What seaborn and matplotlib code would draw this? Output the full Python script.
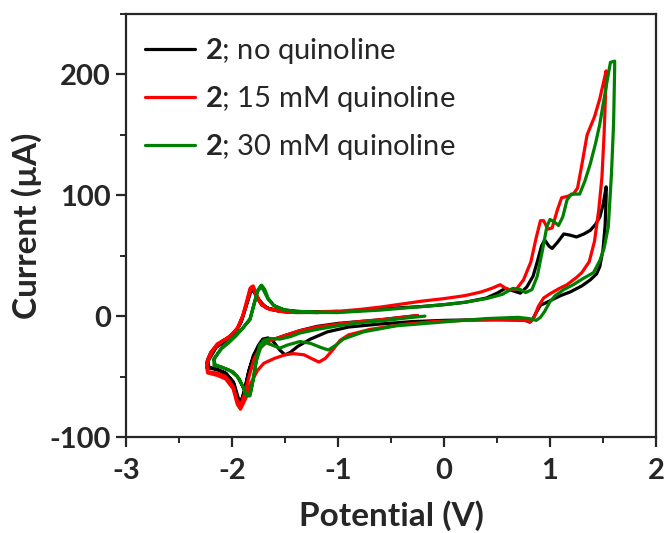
import matplotlib
matplotlib.use("Agg")
import matplotlib.pyplot as plt
import seaborn as sns
import pandas as pd
import numpy as np
from matplotlib.ticker import MultipleLocator

# ---------------- data (potential in V, current in uA) ----------------
labels = ["2; no quinoline", "2; 15 mM quinoline", "2; 30 mM quinoline"]
colors = ["#000000", "#ff0000", "#008000"]

black_E = [-0.25, -0.4, -0.6, -0.8, -1.0, -1.2, -1.36, -1.5, -1.6, -1.68, -1.74, -1.79, -1.84, -1.88, -1.91, -1.94, -1.98, -2.05, -2.12, -2.18, -2.22,
           -2.23, -2.2, -2.14, -2.05, -1.97, -1.92, -1.87, -1.83, -1.80, -1.77, -1.72, -1.65, -1.55, -1.4, -1.2, -1.0, -0.8, -0.6, -0.4, -0.2, 0.0, 0.2, 0.4, 0.5, 0.58, 0.65, 0.72, 0.78, 0.84, 0.88, 0.92, 0.95, 0.99, 1.02, 1.07, 1.13, 1.19, 1.25, 1.32, 1.38, 1.43, 1.47, 1.50, 1.53,
           1.53, 1.52, 1.50, 1.47, 1.44, 1.38, 1.30, 1.19, 1.10, 1.03, 0.96, 0.91, 0.87, 0.84, 0.81, 0.77, 0.6, 0.3, 0.0, -0.3, -0.6, -0.9, -1.1, -1.26, -1.38, -1.45, -1.5, -1.55, -1.61, -1.66, -1.71, -1.75, -1.80, -1.84, -1.88, -1.92, -1.95, -1.99, -2.06, -2.14, -2.22,
           -2.23, -2.15, -2.05, -1.96, -1.91, -1.86, -1.82, -1.79, -1.75, -1.68, -1.55, -1.3, -1.0]
black_I = [0.5, -1, -3, -4.5, -6, -8.5, -12, -16, -19, -21, -25, -32, -45, -60, -70, -68, -56, -48, -45, -43, -42,
           -36, -30, -24, -19, -13, -6, 8, 20, 22, 16, 10, 6, 4, 3, 3, 3.5, 4.5, 6, 7, 8, 9.5, 11.5, 15, 19, 23, 21, 19, 24, 33, 45, 58, 63, 58, 56, 61, 68, 67, 65.5, 68, 71, 76, 82, 92, 107,
           100, 75, 55, 41, 35, 30, 25, 20, 17, 14, 11, 9, 3, -2, -5, -3.5, -3, -3, -3.5, -4.5, -6.5, -9, -13, -19, -25, -30, -32, -28, -21, -18, -19, -24, -33, -45, -62, -72, -68, -54, -47, -44, -43,
           -38, -26, -20, -12, -4, 10, 21, 21, 14, 7, 4.5, 3.5, 4]

red_E = [-0.25, -0.4, -0.6, -0.8, -1.0, -1.2, -1.36, -1.5, -1.6, -1.68, -1.74, -1.79, -1.84, -1.88, -1.92, -1.95, -1.99, -2.06, -2.14, -2.23,
         -2.24, -2.2, -2.14, -2.06, -2.0, -1.94, -1.89, -1.85, -1.82, -1.80, -1.77, -1.73, -1.67, -1.55, -1.4, -1.2, -1.0, -0.8, -0.6, -0.4, -0.2, 0.0, 0.2, 0.35, 0.45, 0.53, 0.6, 0.68, 0.75, 0.82, 0.87, 0.91, 0.94, 0.98, 1.02, 1.07, 1.11, 1.16, 1.22, 1.26, 1.30, 1.35, 1.42, 1.47, 1.53,
         1.53, 1.51, 1.49, 1.46, 1.42, 1.37, 1.30, 1.25, 1.16, 1.09, 1.0, 0.94, 0.89, 0.85, 0.82, 0.75, 0.5, 0.2, -0.1, -0.4, -0.7, -0.9, -0.98, -1.05, -1.12, -1.18, -1.24, -1.32, -1.42, -1.50, -1.60, -1.70, -1.76, -1.82, -1.87, -1.92, -1.95, -1.99, -2.06, -2.14, -2.23,
         -2.24, -2.18, -2.1, -2.02, -1.95, -1.9, -1.86, -1.83, -1.80, -1.77, -1.72, -1.64, -1.5, -1.2, -1.0]
red_I = [0.5, -1, -3, -4.5, -6.5, -9, -12, -16, -19, -22, -27, -35, -50, -64, -74, -70, -58, -50, -47, -46,
         -38, -30, -23, -19, -15, -9, 2, 14, 24, 25, 18, 11, 6.5, 4, 3, 3.2, 4, 5.5, 7.5, 10, 12.5, 14.5, 17, 20, 23, 26, 22, 22, 30, 45, 65, 79, 79, 72, 73, 88, 98, 99, 101, 106, 125, 150, 165, 180, 203,
         198, 150, 115, 88, 62, 45, 36, 32, 26, 23, 18.5, 15, 8, -1, -4.5, -3.5, -3, -3.5, -4.5, -7, -11, -15.5, -20, -28, -35, -38, -35.5, -32, -31, -32, -35, -39, -45, -55, -68, -77, -73, -60, -52, -49, -47,
         -40, -28, -21, -17, -10, 0, 13, 23, 23, 16, 9, 5.5, 3.5, 3, 3.8]

green_E = [-0.18, -0.35, -0.55, -0.8, -1.0, -1.2, -1.36, -1.45, -1.55, -1.64, -1.70, -1.74, -1.77, -1.80, -1.83, -1.86, -1.89, -1.93, -1.99, -2.08, -2.16,
           -2.17, -2.12, -2.07, -2.0, -1.96, -1.90, -1.83, -1.79, -1.76, -1.72, -1.69, -1.66, -1.61, -1.52, -1.4, -1.2, -1.0, -0.8, -0.6, -0.4, -0.2, 0.0, 0.2, 0.4, 0.55, 0.65, 0.72, 0.77, 0.83, 0.88, 0.93, 0.97, 1.0, 1.04, 1.08, 1.12, 1.16, 1.2, 1.28, 1.33, 1.38, 1.43, 1.47, 1.52, 1.57, 1.61,
           1.61, 1.60, 1.58, 1.55, 1.51, 1.47, 1.41, 1.31, 1.22, 1.13, 1.05, 1.0, 0.95, 0.91, 0.87, 0.8, 0.7, 0.4, 0.18, -0.1, -0.45, -0.76, -0.95, -1.02, -1.09, -1.16, -1.26, -1.36, -1.48, -1.55, -1.62, -1.68, -1.73, -1.77, -1.80, -1.83, -1.86, -1.9, -1.95, -2.02, -2.1, -2.17,
           -2.17, -2.1, -2.03, -1.96, -1.89, -1.83, -1.79, -1.76, -1.73, -1.70, -1.66, -1.6, -1.5, -1.3, -1.0]
green_I = [0, -1.5, -3.5, -5.5, -8, -11, -14, -17, -19, -18.5, -20, -24, -36, -52, -64, -66, -60, -52, -46, -43, -40,
           -36, -29, -24, -19, -15.7, -10, -3, 10, 20, 25.6, 22, 15, 9, 5.5, 3.8, 3, 3, 4, 5, 6.5, 8, 9.5, 11.5, 14.5, 18, 23, 22, 19.5, 22, 33, 55, 74, 80, 78, 75, 82, 96, 101, 101, 112, 126, 143, 159, 185, 210, 211,
           205, 160, 118, 74, 56, 46, 36, 31, 26, 22, 17, 12, 4, -1, -3.5, -2, -1, -2, -3.5, -5.5, -8, -13, -19, -24, -28, -26, -22.5, -21, -24, -26.5, -24, -22, -26, -37, -53, -66, -66, -58, -50, -45, -42, -41,
           -35, -27, -22, -16, -9, -2, 11, 21, 25, 21, 14, 8.5, 5, 3.5, 3]

x_ticks = [-3, -2, -1, 0, 1, 2]
y_ticks = [-100, 0, 100, 200]

# ---------------- build table ----------------
frames = []
for lab, E, I in zip(labels, [black_E, red_E, green_E], [black_I, red_I, green_I]):
    frames.append(pd.DataFrame({"E": E, "I": I, "trace": lab}))
df = pd.concat(frames, ignore_index=True)

# ---------------- style ----------------
sns.set_style("ticks")
plt.rcParams["font.family"] = ["Lato", "DejaVu Sans"]
plt.rcParams["axes.unicode_minus"] = False
plt.rcParams["mathtext.fontset"] = "custom"
plt.rcParams["mathtext.rm"] = "Lato"
plt.rcParams["mathtext.bf"] = "Lato:bold"

fig = plt.figure(figsize=(6.69, 5.33), dpi=100)
ax = fig.add_axes([126 / 669, 1 - 437 / 533, (656 - 126) / 669, (437 - 14) / 533])

sns.lineplot(data=df, x="E", y="I", hue="trace", palette=dict(zip(labels, colors)),
             sort=False, estimator=None, units="trace", linewidth=2.3, ax=ax,
             solid_joinstyle="round", solid_capstyle="round")

ax.set_xlim(-3, 2)
ax.set_ylim(-100, 250)
ax.set_xticks(x_ticks)
ax.set_yticks(y_ticks)
ax.xaxis.set_minor_locator(MultipleLocator(0.5))
ax.yaxis.set_minor_locator(MultipleLocator(50))
ax.tick_params(which="major", direction="out", length=7, width=1.6, labelsize=21, pad=4)
ax.tick_params(axis="x", which="major", pad=8)
ax.tick_params(which="minor", direction="out", length=4, width=1.4)
for lab in ax.get_xticklabels() + ax.get_yticklabels():
    lab.set_fontweight("bold")
for sp in ax.spines.values():
    sp.set_linewidth(1.6)
    sp.set_visible(True)

ax.set_xlabel("Potential (V)", fontsize=24, fontweight="bold", labelpad=12)
ax.set_ylabel("Current (\u00b5A)", fontsize=24, fontweight="bold", labelpad=5)

handles, _ = ax.get_legend_handles_labels()
leg_labels = [r"$\mathbf{2}$; no quinoline", r"$\mathbf{2}$; 15 mM quinoline", r"$\mathbf{2}$; 30 mM quinoline"]
ax.legend(handles, leg_labels, loc="upper left", frameon=False, fontsize=21,
          handlelength=1.7, handletextpad=0.35, labelspacing=0.62,
          borderaxespad=0.25, bbox_to_anchor=(0.0, 0.993))

fig.savefig("out.png", dpi=100)
